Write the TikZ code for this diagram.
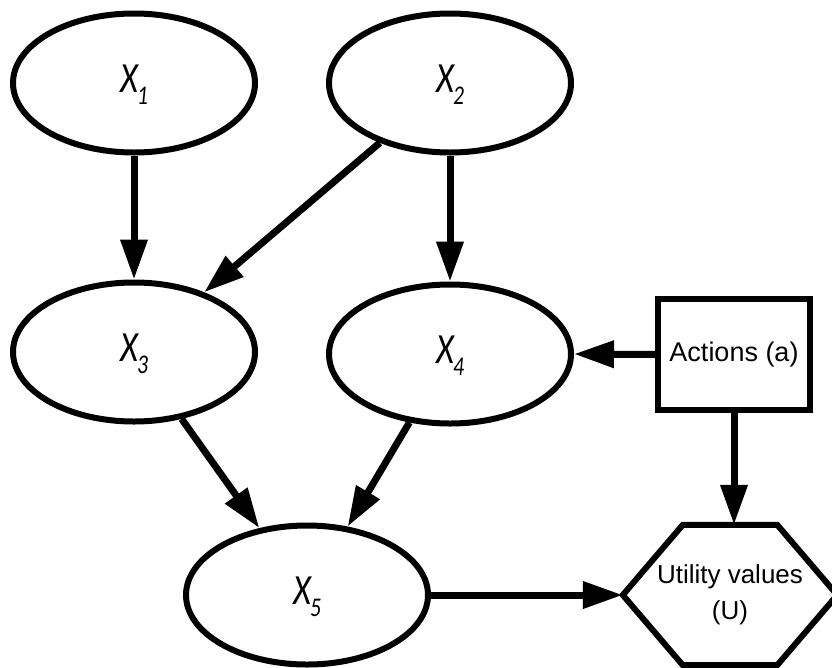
\documentclass[tikz,border=0pt]{standalone}
\usepackage{fontspec}
\setmainfont{Liberation Sans}
\newfontfamily\varfont{Carlito}
\usetikzlibrary{shapes.geometric,arrows.meta}

% narrow italic variable name with a lowered index that does not affect centring
\newcommand{\varlabel}[1]{\raisebox{8pt}{\scalebox{0.8}[1]{\varfont\itshape
  \fontsize{43}{43}\selectfont X\kern-1pt\smash{\raisebox{-12pt}{\fontsize{27}{27}\selectfont #1}}}}}

\begin{document}
\begin{tikzpicture}[x=1pt,y=-1pt,
  chance/.style={ellipse, draw, line width=6pt, minimum width=242pt,
    minimum height=139pt, inner sep=0pt},
  decision/.style={rectangle, draw, line width=6pt, minimum width=152pt,
    minimum height=111pt, inner sep=0pt, font=\fontsize{27}{27}\selectfont},
  utilitytext/.style={rectangle, draw=none, minimum width=214pt,
    minimum height=140pt, inner sep=0pt, align=center,
    font=\fontsize{26}{36}\selectfont},
  link/.style={line width=7pt, -{Triangle[length=40pt,width=26pt]}},
]
\useasboundingbox (0,0) rectangle (832,667);

% chance nodes
\node[chance] (x1) at (134,83)  {\varlabel{1}};
\node[chance] (x2) at (450,83)  {\varlabel{2}};
\node[chance] (x3) at (134,352) {\varlabel{3}};
\node[chance] (x4) at (450,354) {\varlabel{4}};
\node[chance] (x5) at (307,595) {\varlabel{5}};

% decision node
\node[decision] (act) at (734,354.5) {Actions (a)};

% utility node: text box plus hexagonal outline
\node[utilitytext] (util) at (730,595) {Utility values\\(U)};
\draw[line width=6pt, line join=miter]
  (util.west) -- ([xshift=60pt]util.north west) -- ([xshift=-60pt]util.north east)
  -- (util.east) -- ([xshift=-60pt]util.south east) -- ([xshift=60pt]util.south west)
  -- cycle;

% dependencies
\draw[link] (x1) -- (x3);
\draw[link] (x2) -- (x3);
\draw[link] (x2) -- (x4);
\draw[link] (x3) -- (x5);
\draw[link] (x4) -- (x5);
\draw[link] (act.west) -- (x4.east);
\draw[link] (act.south) -- (act.south |- util.north);
\draw[link] (x5.east) -- (util.west);
\end{tikzpicture}
\end{document}
